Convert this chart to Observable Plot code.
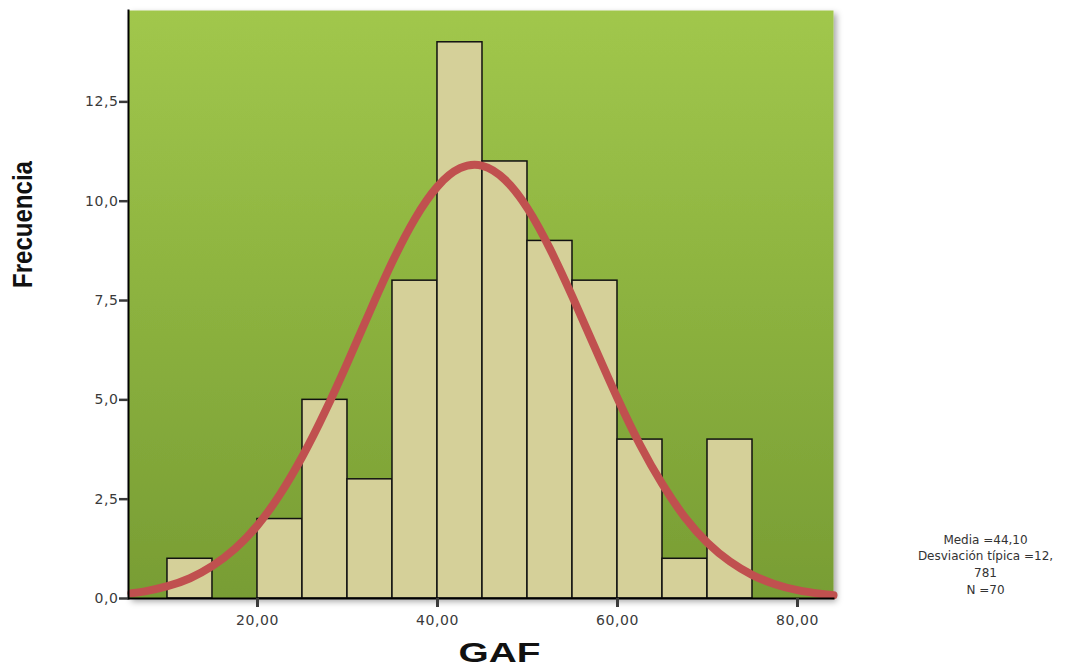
<!DOCTYPE html>
<html>
<head>
<meta charset="utf-8">
<script src="https://cdn.jsdelivr.net/npm/d3@7"></script>
<script src="https://cdn.jsdelivr.net/npm/@observablehq/plot@0.6"></script>
<style>
  html, body { margin: 0; padding: 0; background: #ffffff; overflow: hidden; }
  #chart svg { display: block; }
</style>
</head>
<body>
<div id="chart"></div>
<script>
// Histogram bins (GAF) and frequencies
const binEdges = [10, 15, 20, 25, 30, 35, 40, 45, 50, 55, 60, 65, 70, 75];
const counts   = [1, 0, 2, 5, 3, 8, 14, 11, 9, 8, 4, 1, 4];

// Normal curve
const curveX = [6, 7.5, 10, 12.5, 15, 17.5, 20, 22.5, 25, 27.5, 30, 32.5, 35, 37.5, 40, 42.5, 45, 47.5, 50, 52.5, 55, 57.5, 60, 62.5, 65, 67.5, 70, 72.5, 75, 77.5, 80, 82.5, 84];
const curveY = [0.13, 0.18, 0.31, 0.51, 0.82, 1.25, 1.84, 2.62, 3.58, 4.70, 5.94, 7.23, 8.48, 9.56, 10.37, 10.83, 10.89, 10.54, 9.82, 8.80, 7.59, 6.31, 5.04, 3.87, 2.87, 2.04, 1.40, 0.93, 0.59, 0.36, 0.21, 0.12, 0.08];

const yTicks = [0, 2.5, 5, 7.5, 10, 12.5];
const xTicks = [20, 40, 60, 80];
const statsLines = ["Media =44,10", "Desviación típica =12,", "781", "N =70"];

const bars = counts.map((c, i) => ({x1: binEdges[i], x2: binEdges[i + 1], y: c})).filter(d => d.y > 0);
const curve = curveX.map((x, i) => ({x, y: curveY[i]}));

const fmtComma = f => d => d3.format(f)(d).replace(".", ",");

const plot = Plot.plot({
  width: 1084,
  height: 671,
  marginLeft: 128,
  marginRight: 251,
  marginTop: 10,
  marginBottom: 73,
  style: {fontFamily: "DejaVu Sans, sans-serif", fontSize: "13px", color: "#3a3a3a", background: "#fff"},
  x: {domain: [5.67, 84], label: null},
  y: {domain: [0, 14.8], label: null},
  marks: [
    Plot.frame({fill: "url(#bgGrad)", stroke: "none", className: "bgframe"}),
    Plot.rectY(bars, {x1: "x1", x2: "x2", y: "y", fill: "#d5d099", stroke: "#111", strokeWidth: 1.5}),
    Plot.line(curve, {x: "x", y: "y", stroke: "#c0504f", strokeWidth: 8, curve: "natural", strokeLinecap: "round"}),
    Plot.frame({anchor: "left", stroke: "#000", strokeWidth: 2}),
    Plot.frame({anchor: "bottom", stroke: "#000", strokeWidth: 2}),
    Plot.axisX({ticks: xTicks, tickFormat: fmtComma(".2f"), tickSize: 9, tickPadding: 8, strokeWidth: 3, fontSize: 14, label: null, className: "xax"}),
    Plot.axisY({ticks: yTicks, tickFormat: fmtComma(".1f"), tickSize: 9, tickPadding: 1, strokeWidth: 2.5, fontSize: 14, label: null, className: "yax"}),
    Plot.text(["Frecuencia"], {frameAnchor: "left", dx: -105, dy: -80, rotate: -90, textAnchor: "middle", fontSize: 28, fontWeight: "bold", fontFamily: "Liberation Sans, Arial, sans-serif", fill: "#111", className: "ylab"}),
    Plot.text(["GAF"], {frameAnchor: "bottom", dx: 18.5, dy: 55, textAnchor: "middle", lineAnchor: "middle", fontSize: 27, fontWeight: "bold", fontFamily: "Liberation Sans, Arial, sans-serif", fill: "#111", className: "xlab"}),
    Plot.text([statsLines.join("\n")], {frameAnchor: "bottom-right", dx: 152, dy: -35, lineAnchor: "middle", lineHeight: 1.4, fontSize: 12, textAnchor: "middle", fill: "#333", fontFamily: "DejaVu Sans, sans-serif"})
  ]
});

// gradient + shadow definitions
const svg = d3.select(plot);
const defs = svg.insert("defs", ":first-child");
const grad = defs.append("linearGradient").attr("id", "bgGrad").attr("x1", 0).attr("y1", 0).attr("x2", 0).attr("y2", 1);
grad.append("stop").attr("offset", "0%").attr("stop-color", "#a1c74c");
grad.append("stop").attr("offset", "50%").attr("stop-color", "#8cb23f");
grad.append("stop").attr("offset", "100%").attr("stop-color", "#789d34");
const filt = defs.append("filter").attr("id", "shadow").attr("x", "-5%").attr("y", "-5%").attr("width", "115%").attr("height", "115%");
filt.append("feDropShadow").attr("dx", 3).attr("dy", 3).attr("stdDeviation", 3).attr("flood-color", "#000").attr("flood-opacity", 0.35);
svg.selectAll(".bgframe").attr("filter", "url(#shadow)");
// condensed / stretched axis titles as in the reference
svg.selectAll(".ylab text").attr("textLength", 127).attr("lengthAdjust", "spacingAndGlyphs");
svg.selectAll(".xlab text").attr("textLength", 82).attr("lengthAdjust", "spacingAndGlyphs");
svg.selectAll(".xax text, .yax text").attr("letter-spacing", "0.6px");

document.getElementById("chart").appendChild(plot);
</script>
</body>
</html>
